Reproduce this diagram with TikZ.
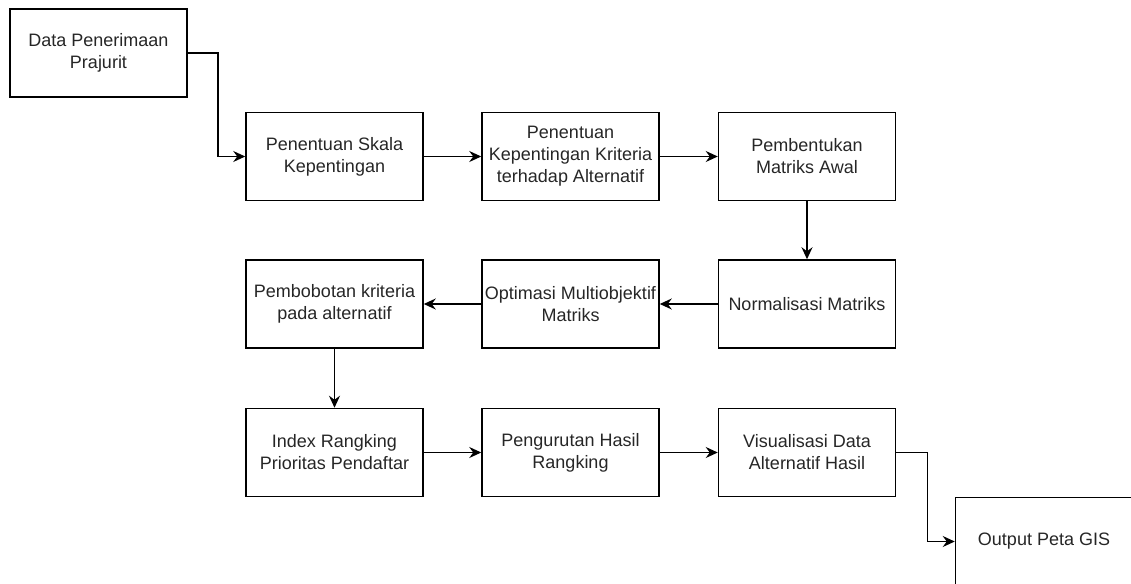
\documentclass[tikz,border=0pt]{standalone}
\usepackage{fontspec}
\setmainfont{Liberation Sans}
\usetikzlibrary{arrows.meta}

\begin{document}
\begin{tikzpicture}[x=1pt, y=-1pt,
	box/.style={draw, rectangle, line width=1.5pt, minimum width=177pt, minimum height=88pt, inner sep=0pt, align=center, text=black!85, font=\fontsize{18}{22}\selectfont},
	link/.style={line width=1.5pt, -{Stealth[length=12pt, width=11pt, inset=4pt]}}]
				\clip (0,0) rectangle (1131,583);
				\node[box] (data)at(98.5, 53) {Data Penerimaan\\Prajurit};
				\node[box] (skala)at(334.5, 156.5) {Penentuan Skala\\Kepentingan};
				\node[box] (kriteria)at(570.5, 156.5) {Penentuan\\Kepentingan Kriteria\\terhadap Alternatif};
				\node[box] (awal)at(807, 156.5) {Pembentukan\\Matriks Awal};
				\node[box] (norm)at(807, 304) {Normalisasi Matriks};
				\node[box] (optim)at(570.5, 304) {Optimasi Multiobjektif\\Matriks};
				\node[box] (bobot)at(334.5, 304) {Pembobotan kriteria\\pada alternatif};
				\node[box] (index)at(334.5, 452.5) {Index Rangking\\Prioritas Pendaftar};
				\node[box] (urut)at(570.5, 452.5) {Pengurutan Hasil\\Rangking};
				\node[box] (visual)at(807, 452.5) {Visualisasi Data\\Alternatif Hasil};
				\node[box] (gis)at(1044, 541.5) {Output Peta GIS};
				\draw[link] (data.east) -- ++(30,0) |- (skala.west);
				\draw[link] (skala) -- (kriteria);
				\draw[link] (kriteria) -- (awal);
				\draw[link] (awal) -- (norm);
				\draw[link] (norm) -- (optim);
				\draw[link] (optim) -- (bobot);
				\draw[link] (bobot) -- (index);
				\draw[link] (index) -- (urut);
				\draw[link] (urut) -- (visual);
				\draw[link] (visual.east) -- ++(31,0) |- (gis.west);
			\end{tikzpicture}
\end{document}
